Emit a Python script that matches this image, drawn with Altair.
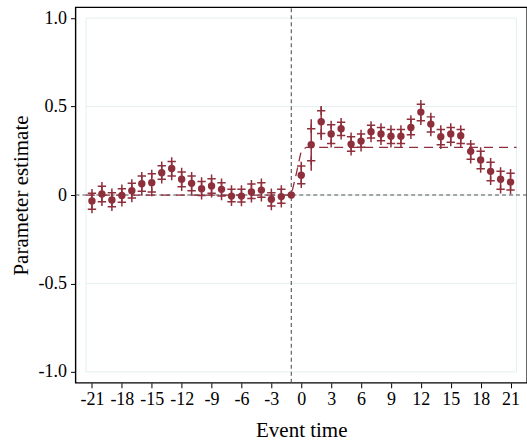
import altair as alt
import pandas as pd

# Event-study estimates with confidence bounds
event_time = list(range(-21, 22))
estimate = [
    -0.034, 0.006, -0.028, -0.002, 0.024, 0.064, 0.070, 0.126, 0.150, 0.089,
    0.066, 0.036, 0.051, 0.032, -0.006, -0.006, 0.017, 0.028, -0.024, -0.009,
    0.000,
    0.112, 0.284, 0.414, 0.345, 0.375, 0.288, 0.305, 0.358, 0.345, 0.333,
    0.333, 0.382, 0.469, 0.401, 0.330, 0.345, 0.335, 0.247, 0.198, 0.134,
    0.089, 0.073,
]
ci_low = [
    -0.080, -0.038, -0.066, -0.041, -0.017, 0.021, 0.017, 0.089, 0.107, 0.047,
    0.024, -0.002, 0.010, -0.006, -0.038, -0.040, -0.019, -0.013, -0.062, -0.047,
    None,
    0.064, 0.194, 0.348, 0.292, 0.337, 0.247, 0.270, 0.322, 0.307, 0.292,
    0.292, 0.341, 0.420, 0.356, 0.284, 0.299, 0.292, 0.202, 0.149, 0.081,
    0.032, 0.028,
]
ci_high = [
    0.010, 0.050, 0.013, 0.036, 0.066, 0.107, 0.120, 0.166, 0.190, 0.130,
    0.107, 0.077, 0.092, 0.070, 0.032, 0.032, 0.062, 0.070, 0.013, 0.032,
    None,
    0.164, 0.375, 0.476, 0.397, 0.412, 0.330, 0.345, 0.394, 0.382, 0.371,
    0.371, 0.428, 0.514, 0.442, 0.371, 0.382, 0.371, 0.288, 0.247, 0.186,
    0.134, 0.123,
]
# Whisker ends (wider than the cross markers for the first post periods)
whisker_low = list(ci_low)
whisker_high = list(ci_high)
whisker_low[22], whisker_high[22] = 0.137, 0.428
whisker_low[23], whisker_high[23] = 0.311, 0.503

# Fitted step path
fit_time = [-21.6, -1.0, -0.5, 0.0, 0.5, 21.6]
fit_value = [0.0, 0.0, 0.12, 0.25, 0.27, 0.27]

x_ticks = list(range(-21, 22, 3))
y_ticks = [-1.0, -0.5, 0.0, 0.5, 1.0]

X_DOMAIN = [-22.65, 22.65]
Y_DOMAIN = [-1.062, 1.062]
RED = "#8E2F3C"
FONT = "Liberation Serif"

est = pd.DataFrame({
    "t": event_time, "est": estimate,
    "lo": ci_low, "hi": ci_high,
    "wlo": whisker_low, "whi": whisker_high,
})
fit = pd.DataFrame({"t": fit_time, "v": fit_value})

xs = alt.Scale(domain=X_DOMAIN, nice=False, zero=False)
ys = alt.Scale(domain=Y_DOMAIN, nice=False, zero=False)

x_axis = alt.Axis(
    values=x_ticks, tickCount=len(x_ticks) + 5, grid=False, domain=False,
    tickSize=5, tickColor="black",
    labelPadding=3, labelFontSize=18, labelFont=FONT, labelColor="black",
    labelOverlap=False, labelBound=False, labelFlush=False,
    labelExpr="(datum.value < 0 ? '-' : '') + abs(datum.value)",
    title="Event time", titleFont=FONT, titleFontSize=21, titleFontWeight="normal",
    titleColor="black", titleBaseline="alphabetic", titleY=54,
)
y_axis = alt.Axis(
    values=y_ticks, tickCount=len(y_ticks) + 5, grid=False, domain=False,
    tickSize=5, tickColor="black",
    labelPadding=4, labelFontSize=18, labelFont=FONT, labelColor="black",
    labelOverlap=False, labelFlush=False,
    labelExpr="datum.value == 0 ? '0' : (datum.value < 0 ? '-' : '') + format(abs(datum.value), '.1f')",
    title="Parameter estimate", titleFont=FONT, titleFontSize=21, titleFontWeight="normal",
    titleColor="black", titleBaseline="middle", titleX=-54, titleY=188,
)

# Light frame of gridlines
grid_h = pd.DataFrame({"y": y_ticks, "x1": -21.6, "x2": 21.6})
grid_v = pd.DataFrame({"x": [-21.6, 21.6], "y1": -1.0, "y2": 1.0})
gh = alt.Chart(grid_h).mark_rule(color="#E4EFEF", strokeWidth=1).encode(
    x=alt.X("x1:Q", scale=xs, axis=x_axis), x2="x2:Q", y=alt.Y("y:Q", scale=ys, axis=y_axis)
)
gv = alt.Chart(grid_v).mark_rule(color="#E4EFEF", strokeWidth=1).encode(
    x=alt.X("x:Q", scale=xs), y=alt.Y("y1:Q", scale=ys), y2="y2:Q"
)

# Reference lines at the event and at zero
ref_h = alt.Chart(pd.DataFrame({"y": [0.0], "x1": [X_DOMAIN[0]], "x2": [X_DOMAIN[1]]})).mark_rule(
    color="#555555", strokeWidth=1.1, strokeDash=[4, 3]
).encode(x=alt.X("x1:Q", scale=xs), x2="x2:Q", y=alt.Y("y:Q", scale=ys))
ref_v = alt.Chart(pd.DataFrame({"x": [-1.0], "y1": [Y_DOMAIN[0]], "y2": [Y_DOMAIN[1]]})).mark_rule(
    color="#555555", strokeWidth=1.1, strokeDash=[4, 3]
).encode(x=alt.X("x:Q", scale=xs), y=alt.Y("y1:Q", scale=ys), y2="y2:Q")

fit_line = alt.Chart(fit).mark_line(color=RED, strokeWidth=1.3, strokeDash=[9, 6]).encode(
    x=alt.X("t:Q", scale=xs), y=alt.Y("v:Q", scale=ys)
)

whiskers = alt.Chart(est).mark_rule(color=RED, strokeWidth=1.5).encode(
    x=alt.X("t:Q", scale=xs), y=alt.Y("wlo:Q", scale=ys), y2="whi:Q"
)
plus = "M-1,0L1,0M0,-1L0,1"
caps_lo = alt.Chart(est).mark_point(shape=plus, size=70, color=RED, strokeWidth=1.5, filled=False, opacity=1).encode(
    x=alt.X("t:Q", scale=xs), y=alt.Y("lo:Q", scale=ys)
)
caps_hi = alt.Chart(est).mark_point(shape=plus, size=70, color=RED, strokeWidth=1.5, filled=False, opacity=1).encode(
    x=alt.X("t:Q", scale=xs), y=alt.Y("hi:Q", scale=ys)
)
dots = alt.Chart(est).mark_circle(size=55, color=RED, opacity=1).encode(
    x=alt.X("t:Q", scale=xs), y=alt.Y("est:Q", scale=ys)
)

chart = alt.layer(gh, gv, ref_h, ref_v, fit_line, whiskers, caps_lo, caps_hi, dots).properties(
    width=452, height=376,
    autosize=alt.AutoSizeParams(type="none"),
    padding={"left": 75.6, "top": 7, "right": 0, "bottom": 60},
    background="white",
).configure_view(stroke="black", strokeWidth=1.4)

chart.save("out.html", embed_options={"renderer": "svg", "actions": False})
